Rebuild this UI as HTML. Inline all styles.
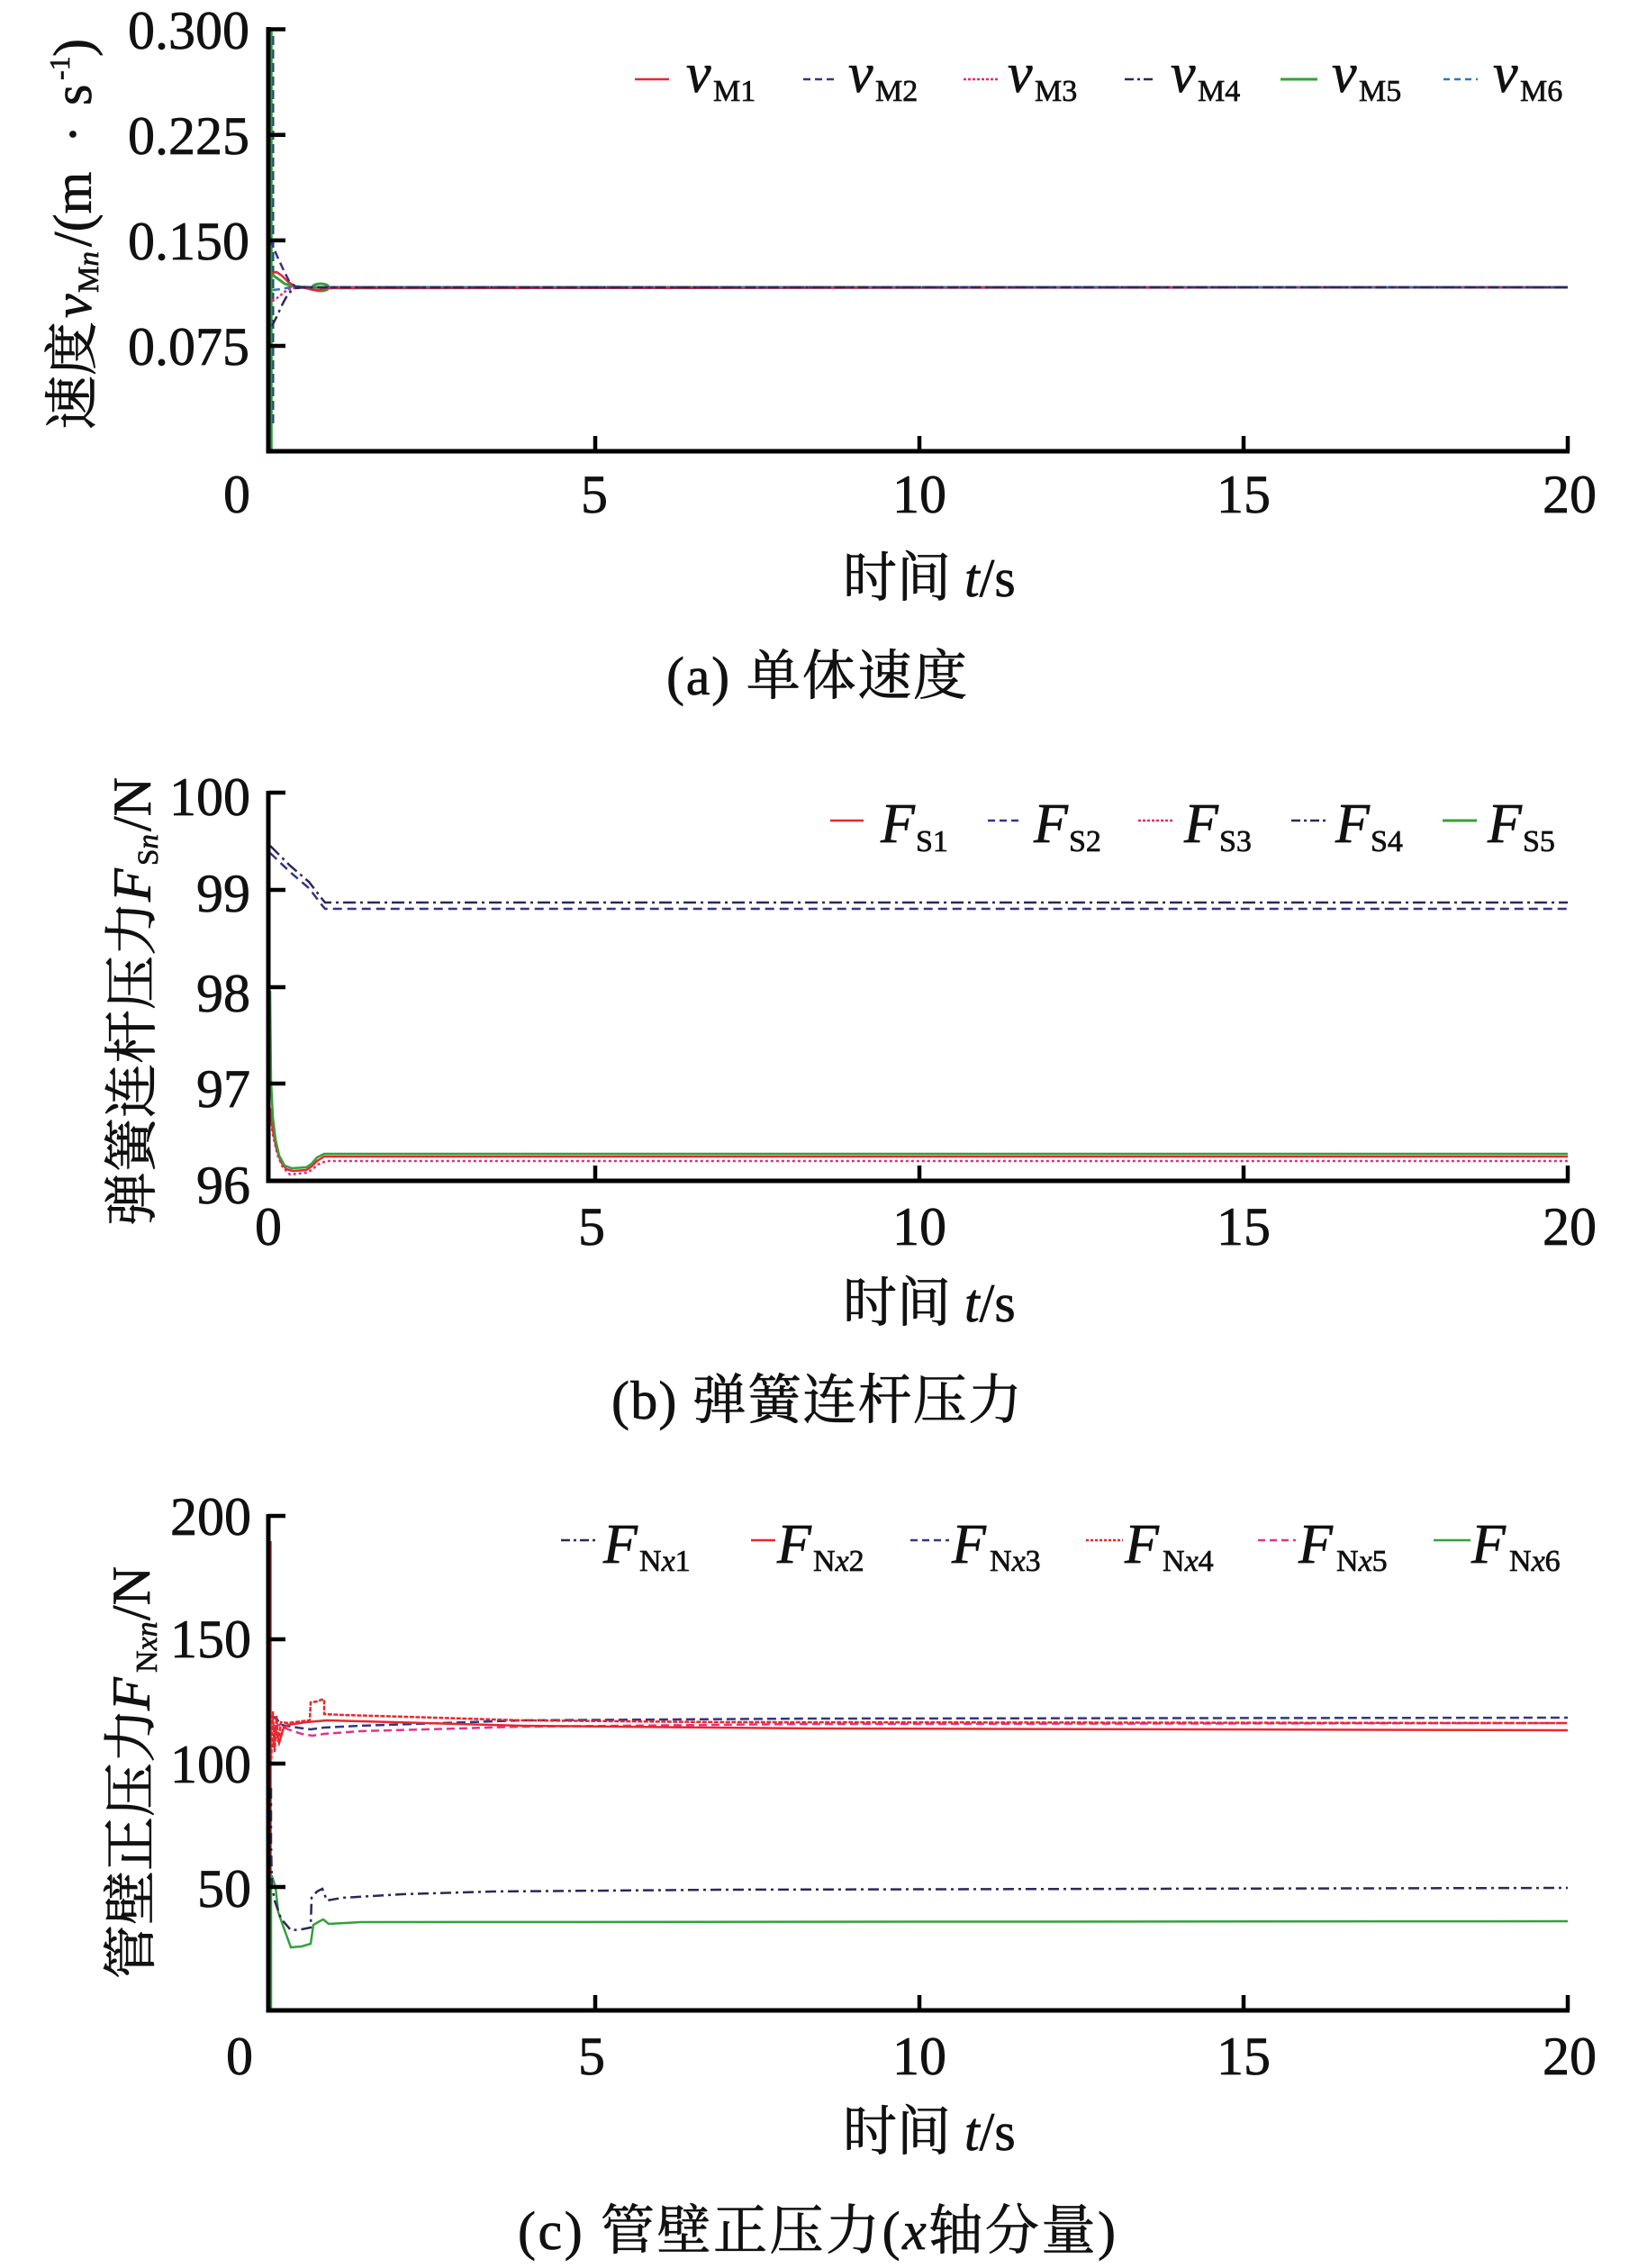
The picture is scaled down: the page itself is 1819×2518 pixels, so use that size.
<!DOCTYPE html>
<html>
<head>
<meta charset="utf-8">
<style>
html,body{margin:0;padding:0;background:#fff;}
svg{display:block;font-family:"Liberation Serif","Noto Serif CJK SC",serif;}
svg text{stroke:#111;stroke-width:0.7px;}
</style>
</head>
<body>
<svg width="1819" height="2518" viewBox="0 0 1819 2518" xmlns="http://www.w3.org/2000/svg" fill="#111">
<rect width="1819" height="2518" fill="#fff"/>

<!-- ===================== PANEL A ===================== -->
<g fill="none" stroke-width="2.5">
  <line x1="301" y1="34" x2="301" y2="499" stroke="#2e9e3a" stroke-width="3.5"/>
  <line x1="303.5" y1="40" x2="303.5" y2="470" stroke="#2e3a8a" stroke-width="2" stroke-dasharray="10,5"/>
  <polyline points="302,305 308,309 316,315 326,318 345,319 1741,319" stroke="#34a13b" stroke-width="3"/>
  <ellipse cx="356" cy="319" rx="9" ry="4" stroke="#34a13b" stroke-width="3"/>
  <polyline points="302,303 307,302 313,306 320,313 328,318 340,320 348,322 355,322 362,320 1741,319" stroke="#e8282e"/>
  <polyline points="302,334 309,330 316,324 324,320 335,319 1741,319" stroke="#e52a74" stroke-dasharray="3,2.5"/>
  <polyline points="303,322 312,321 322,319 1741,319" stroke="#2f78b5" stroke-dasharray="8,5"/>
  <polyline points="300,266 308,285 315,300 321,312 328,318 340,319 1741,319" stroke="#333585" stroke-dasharray="9,5"/>
  <polyline points="302,362 308,350 314,337 320,326 327,320 340,319 1741,319" stroke="#2b2858" stroke-dasharray="12,5,3,5"/>
</g>
<path d="M298 30 V501 H1743" fill="none" stroke="#000" stroke-width="5"/>
<g stroke="#000" stroke-width="4.5">
  <line x1="298" y1="32.5" x2="317" y2="32.5"/>
  <line x1="298" y1="149.7" x2="317" y2="149.7"/>
  <line x1="298" y1="266.9" x2="317" y2="266.9"/>
  <line x1="298" y1="384" x2="317" y2="384"/>
  <line x1="661" y1="501" x2="661" y2="484"/>
  <line x1="1021" y1="501" x2="1021" y2="484"/>
  <line x1="1381" y1="501" x2="1381" y2="484"/>
  <line x1="1741" y1="501" x2="1741" y2="484"/>
</g>
<g font-size="60" text-anchor="end">
  <text x="277" y="54">0.300</text>
  <text x="277" y="171">0.225</text>
  <text x="277" y="288">0.150</text>
  <text x="277" y="405">0.075</text>
</g>
<g font-size="60" text-anchor="middle">
  <text x="263" y="569">0</text>
  <text x="660" y="569">5</text>
  <text x="1021" y="569">10</text>
  <text x="1381" y="569">15</text>
  <text x="1743" y="569">20</text>
</g>
<text x="936" y="662" font-size="60">时间 <tspan font-style="italic">t</tspan>/s</text>
<text x="740" y="771" font-size="60" textLength="334" lengthAdjust="spacing">(a) 单体速度</text>
<g transform="translate(101,477) rotate(-90)" font-size="60">
  <text x="0" y="0">速度</text>
  <text x="124" y="0" font-style="italic">v</text>
  <text x="152" y="8" font-size="33">M<tspan font-style="italic">n</tspan></text>
  <text x="203" y="0">/(m</text>
  <text x="318" y="0">·</text>
  <text x="360" y="0">s</text>
  <text x="388" y="-24" font-size="32">-1</text>
  <text x="414" y="0">)</text>
</g>
<g fill="none" stroke-width="2.5">
  <line x1="705" y1="88" x2="743" y2="88" stroke="#e8282e"/>
  <line x1="892" y1="88" x2="929" y2="88" stroke="#333585" stroke-dasharray="8,5"/>
  <line x1="1070" y1="88" x2="1108" y2="88" stroke="#e52a74" stroke-dasharray="3,2"/>
  <line x1="1249" y1="88" x2="1284" y2="88" stroke="#2b2858" stroke-dasharray="10,4,3,4"/>
  <line x1="1422" y1="88" x2="1463" y2="88" stroke="#34a13b" stroke-width="3"/>
  <line x1="1603" y1="88" x2="1641" y2="88" stroke="#2f78b5" stroke-dasharray="7,5"/>
</g>
<g font-size="62">
  <text x="762" y="102" font-style="italic">v</text><text x="792" y="112" font-size="34">M1</text>
  <text x="942" y="102" font-style="italic">v</text><text x="972" y="112" font-size="34">M2</text>
  <text x="1119" y="102" font-style="italic">v</text><text x="1149" y="112" font-size="34">M3</text>
  <text x="1300" y="102" font-style="italic">v</text><text x="1330" y="112" font-size="34">M4</text>
  <text x="1479" y="102" font-style="italic">v</text><text x="1509" y="112" font-size="34">M5</text>
  <text x="1658" y="102" font-style="italic">v</text><text x="1688" y="112" font-size="34">M6</text>
</g>

<!-- ===================== PANEL B ===================== -->
<g fill="none" stroke-width="2.5">
  <polyline points="300,939 322,961 343,979 350,988 356,996 361,1002 1741,1002" stroke="#2b2858" stroke-dasharray="14,5,3,5"/>
  <polyline points="300,947 322,968 343,986 350,995 356,1003 361,1009 1741,1009" stroke="#333585" stroke-dasharray="10,6"/>
  <polyline points="300,1235 303,1260 308,1282 314,1296 322,1304 340,1302 346,1299 353,1293 362,1289 1741,1289" stroke="#e52a74" stroke-dasharray="3,3"/>
  <polyline points="300,1230 303,1255 307,1275 312,1290 318,1298 325,1300 340,1299 346,1295 352,1289 360,1284 1741,1284" stroke="#e8282e"/>
  <polyline points="300,1100 301,1200 303,1240 306,1265 310,1283 316,1294 324,1297 340,1296 346,1292 352,1285 360,1281 1741,1281" stroke="#34a13b"/>
</g>
<path d="M298 878 V1311 H1743" fill="none" stroke="#000" stroke-width="5"/>
<g stroke="#000" stroke-width="4.5">
  <line x1="298" y1="880" x2="317" y2="880"/>
  <line x1="298" y1="988" x2="317" y2="988"/>
  <line x1="298" y1="1096" x2="317" y2="1096"/>
  <line x1="298" y1="1203" x2="317" y2="1203"/>
  <line x1="661" y1="1311" x2="661" y2="1294"/>
  <line x1="1021" y1="1311" x2="1021" y2="1294"/>
  <line x1="1381" y1="1311" x2="1381" y2="1294"/>
  <line x1="1741" y1="1311" x2="1741" y2="1294"/>
</g>
<g font-size="60" text-anchor="end">
  <text x="278" y="905">100</text>
  <text x="278" y="1012">99</text>
  <text x="278" y="1123">98</text>
  <text x="278" y="1229">97</text>
  <text x="278" y="1336">96</text>
</g>
<g font-size="60" text-anchor="middle">
  <text x="298" y="1382">0</text>
  <text x="657" y="1382">5</text>
  <text x="1021" y="1382">10</text>
  <text x="1381" y="1382">15</text>
  <text x="1743" y="1382">20</text>
</g>
<text x="936" y="1467" font-size="60">时间 <tspan font-style="italic">t</tspan>/s</text>
<text x="679" y="1575" font-size="60" textLength="456" lengthAdjust="spacing">(b) 弹簧连杆压力</text>
<g transform="translate(167,1361) rotate(-90)" font-size="60">
  <text x="0" y="0">弹簧连杆压力</text>
  <text x="360" y="0" font-style="italic">F</text>
  <text x="400" y="8" font-size="33">S<tspan font-style="italic">n</tspan></text>
  <text x="438" y="0">/N</text>
</g>
<g fill="none" stroke-width="2.5">
  <line x1="922" y1="911" x2="959" y2="911" stroke="#e8282e"/>
  <line x1="1097" y1="911" x2="1136" y2="911" stroke="#333585" stroke-dasharray="8,5"/>
  <line x1="1264" y1="911" x2="1302" y2="911" stroke="#e52a74" stroke-dasharray="3,2"/>
  <line x1="1434" y1="911" x2="1473" y2="911" stroke="#2b2858" stroke-dasharray="10,4,3,4"/>
  <line x1="1602" y1="911" x2="1640" y2="911" stroke="#34a13b" stroke-width="3"/>
</g>
<g font-size="62">
  <text x="978" y="935" font-style="italic">F</text><text x="1017" y="945" font-size="34">S1</text>
  <text x="1148" y="935" font-style="italic">F</text><text x="1187" y="945" font-size="34">S2</text>
  <text x="1315" y="935" font-style="italic">F</text><text x="1354" y="945" font-size="34">S3</text>
  <text x="1483" y="935" font-style="italic">F</text><text x="1522" y="945" font-size="34">S4</text>
  <text x="1652" y="935" font-style="italic">F</text><text x="1691" y="945" font-size="34">S5</text>
</g>

<!-- ===================== PANEL C ===================== -->
<g fill="none" stroke-width="2.5">
  <line x1="300" y1="1711" x2="300" y2="2230" stroke="#e8282e" stroke-width="3.5"/>
  <polyline points="301,2232 301,2083 302,2083 306,2095 309,2123 315,2140 323,2162 335,2161 345,2158 348,2137 355,2133 359,2131 365,2136 400,2134 1741,2133" stroke="#34a13b"/>
  <polyline points="301,1985 301,2047 302,2093 305,2110 312,2130 323,2143 335,2142 345,2140 346,2107 352,2100 358,2097 363,2110 380,2107 447,2103 547,2100 800,2098 1741,2096" stroke="#2b2858" stroke-dasharray="12,5,3,5"/>
  <polyline points="303,1918 310,1915 320,1920 335,1925 347,1927 360,1925 400,1922 580,1917 900,1914 1741,1913" stroke="#e2338a" stroke-dasharray="9,5"/>
  <polyline points="302,1905 307,1908 312,1915 330,1918 345,1920 360,1918 400,1916 580,1910 900,1908 1741,1907" stroke="#333585" stroke-dasharray="10,5"/>
  <polyline points="303,1940 306,1920 310,1935 315,1918 320,1915 340,1912 363,1910 400,1911 580,1916 900,1919 1741,1921" stroke="#e8282e"/>
  <polyline points="301,1960 303,1900 305,1945 307,1905 309,1935 312,1912 320,1913 335,1911 344,1910 345,1890 352,1889 357,1887 360,1887 360,1903 380,1904 450,1906 580,1910 800,1912 1741,1913" stroke="#e8282e" stroke-dasharray="5,1.5"/>
</g>
<path d="M298 1681 V2232 H1743" fill="none" stroke="#000" stroke-width="5"/>
<g stroke="#000" stroke-width="4.5">
  <line x1="298" y1="1683" x2="317" y2="1683"/>
  <line x1="298" y1="1820" x2="317" y2="1820"/>
  <line x1="298" y1="1958" x2="317" y2="1958"/>
  <line x1="298" y1="2095" x2="317" y2="2095"/>
  <line x1="661" y1="2232" x2="661" y2="2215"/>
  <line x1="1021" y1="2232" x2="1021" y2="2215"/>
  <line x1="1381" y1="2232" x2="1381" y2="2215"/>
  <line x1="1741" y1="2232" x2="1741" y2="2215"/>
</g>
<g font-size="60" text-anchor="end">
  <text x="279" y="1704">200</text>
  <text x="279" y="1840">150</text>
  <text x="279" y="1979">100</text>
  <text x="279" y="2117">50</text>
</g>
<g font-size="60" text-anchor="middle">
  <text x="266" y="2303">0</text>
  <text x="657" y="2303">5</text>
  <text x="1021" y="2303">10</text>
  <text x="1381" y="2303">15</text>
  <text x="1743" y="2303">20</text>
</g>
<text x="936" y="2387" font-size="60">时间 <tspan font-style="italic">t</tspan>/s</text>
<text x="575" y="2497" font-size="60" textLength="664" lengthAdjust="spacing">(c) 管壁正压力(<tspan font-style="italic">x</tspan>轴分量)</text>
<g transform="translate(166,2197) rotate(-90)" font-size="60">
  <text x="0" y="0">管壁正压力</text>
  <text x="298" y="0" font-style="italic">F</text>
  <text x="340" y="8" font-size="34">N<tspan font-style="italic">xn</tspan></text>
  <text x="398" y="0">/N</text>
</g>
<g fill="none" stroke-width="2.5">
  <line x1="623" y1="1710" x2="662" y2="1710" stroke="#2b2858" stroke-dasharray="10,4,3,4"/>
  <line x1="834" y1="1710" x2="861" y2="1710" stroke="#e8282e"/>
  <line x1="1011" y1="1710" x2="1054" y2="1710" stroke="#333585" stroke-dasharray="8,5"/>
  <line x1="1206" y1="1710" x2="1247" y2="1710" stroke="#e8282e" stroke-dasharray="3,2"/>
  <line x1="1397" y1="1710" x2="1439" y2="1710" stroke="#e2338a" stroke-dasharray="8,5"/>
  <line x1="1592" y1="1710" x2="1633" y2="1710" stroke="#34a13b"/>
</g>
<g font-size="62">
  <text x="670" y="1735" font-style="italic">F</text><text x="710" y="1744" font-size="34">N<tspan font-style="italic">x</tspan>1</text>
  <text x="863" y="1735" font-style="italic">F</text><text x="903" y="1744" font-size="34">N<tspan font-style="italic">x</tspan>2</text>
  <text x="1057" y="1735" font-style="italic">F</text><text x="1099" y="1744" font-size="34">N<tspan font-style="italic">x</tspan>3</text>
  <text x="1249" y="1735" font-style="italic">F</text><text x="1291" y="1744" font-size="34">N<tspan font-style="italic">x</tspan>4</text>
  <text x="1442" y="1735" font-style="italic">F</text><text x="1484" y="1744" font-size="34">N<tspan font-style="italic">x</tspan>5</text>
  <text x="1634" y="1735" font-style="italic">F</text><text x="1676" y="1744" font-size="34">N<tspan font-style="italic">x</tspan>6</text>
</g>
</svg>
</body>
</html>
